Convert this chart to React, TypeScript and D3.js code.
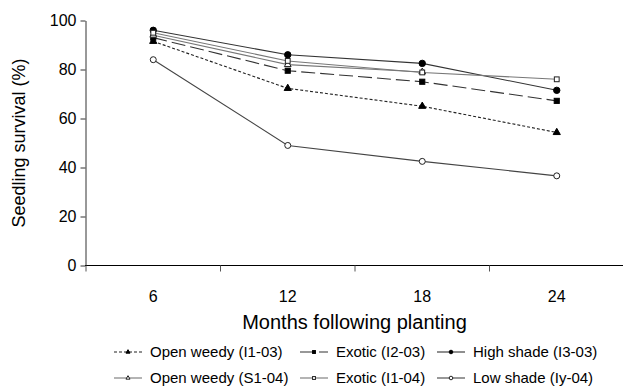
import React, { useEffect, useRef } from "react";
import * as d3 from "d3";

const months = ["6", "12", "18", "24"];
const yTicks = [0, 20, 40, 60, 80, 100];

const openWeedy0304 = [91.5, 72.3, 65, 54.3];
const exotic0203 = [93, 79.5, 75, 67.2];
const highShade = [96, 86, 82.5, 71.5];
const openWeedyS104 = [94, 82, 79];
const exoticI104 = [95, 83.5, 78.8, 76];
const lowShade = [84, 49, 42.5, 36.6];

interface Series {
  name: string;
  values: number[];
  marker: "triangle" | "square" | "circle";
  filled: boolean;
  dash: string;
  stroke: string;
}

const series: Series[] = [
  { name: "Open weedy (I1-03)", values: openWeedy0304, marker: "triangle", filled: true, dash: "3,2", stroke: "#222" },
  { name: "Exotic (I2-03)", values: exotic0203, marker: "square", filled: true, dash: "14,5", stroke: "#333" },
  { name: "High shade (I3-03)", values: highShade, marker: "circle", filled: true, dash: "", stroke: "#333" },
  { name: "Open weedy (S1-04)", values: openWeedyS104, marker: "triangle", filled: false, dash: "", stroke: "#777" },
  { name: "Exotic (I1-04)", values: exoticI104, marker: "square", filled: false, dash: "", stroke: "#777" },
  { name: "Low shade (Iy-04)", values: lowShade, marker: "circle", filled: false, dash: "", stroke: "#444" },
];

function drawMarker(g: any, s: Series, cx: number, cy: number, size: number) {
  const fill = s.filled ? "#000" : "#fff";
  const stroke = s.filled ? "#000" : "#222";
  if (s.marker === "circle") {
    g.append("circle").attr("cx", cx).attr("cy", cy).attr("r", size)
      .attr("fill", fill).attr("stroke", stroke).attr("stroke-width", 1);
  } else if (s.marker === "square") {
    const h = size * 0.8;
    g.append("rect").attr("x", cx - h).attr("y", cy - h).attr("width", h * 2).attr("height", h * 2)
      .attr("fill", fill).attr("stroke", stroke).attr("stroke-width", 1);
  } else {
    const sym = d3.symbol().type(d3.symbolTriangle).size(size * size * 2.2);
    g.append("path").attr("d", sym()).attr("transform", `translate(${cx},${cy})`)
      .attr("fill", fill).attr("stroke", stroke).attr("stroke-width", 1);
  }
}

export default function App() {
  const ref = useRef<SVGSVGElement>(null);

  useEffect(() => {
    document.body.style.margin = "0";
    if (!ref.current) return;
    const svg = d3.select(ref.current);
    svg.selectAll("*").remove();

    const font = "Liberation Sans, Arial, Helvetica, sans-serif";

    const x = d3.scaleBand().domain(months).range([86, 624]);
    const y = d3.scaleLinear().domain([0, 100]).range([265.5, 20.5]);

    // y axis
    const yAxis = svg.append("g").attr("transform", "translate(85.5,0)")
      .call(d3.axisLeft(y).tickValues(yTicks).tickSize(5).tickSizeOuter(0).tickPadding(4));
    yAxis.selectAll("text").style("font-family", font).style("font-size", "16px").attr("fill", "#000");
    yAxis.selectAll("line, path").attr("stroke", "#333");

    // x axis: ticks sit between months
    const xg = svg.append("g").attr("transform", "translate(0,265.5)");
    xg.append("line").attr("x1", 85).attr("x2", 623).attr("stroke", "#000");
    const edges = months.map((m) => x(m) as number);
    xg.selectAll(".xt").data(edges).enter().append("line")
      .attr("x1", (d: number) => d).attr("x2", (d: number) => d)
      .attr("y1", 0).attr("y2", 6).attr("stroke", "#555");
    xg.selectAll(".xl").data(months).enter().append("text")
      .attr("x", (d: string) => (x(d) as number) + x.bandwidth() / 2)
      .attr("y", 36).attr("text-anchor", "middle")
      .style("font-family", font).style("font-size", "16px").text((d: string) => d);

    // axis titles
    svg.append("text").attr("x", 354.5).attr("y", 329).attr("text-anchor", "middle")
      .style("font-family", font).style("font-size", "20px").text("Months following planting");
    svg.append("text").attr("transform", "translate(25,143) rotate(-90)").attr("text-anchor", "middle")
      .style("font-family", font).style("font-size", "18px").text("Seedling survival (%)");

    const cx = (i: number) => (x(months[i]) as number) + x.bandwidth() / 2;
    const line = d3.line<number>().x((_d: number, i: number) => cx(i)).y((d: number) => y(d));

    const plot = svg.append("g");
    series.forEach((s) => {
      plot.append("path").attr("d", line(s.values)).attr("fill", "none")
        .attr("stroke", s.stroke).attr("stroke-width", 1.1)
        .attr("stroke-dasharray", s.dash || null);
    });
    series.forEach((s) => {
      s.values.forEach((v, i) => drawMarker(plot, s, cx(i), y(v), s.filled ? 3.2 : 3.0));
    });

    // legend
    const colX = [114, 300, 437];
    const rowY = [352, 378];
    series.forEach((s, i) => {
      const lx = colX[i % 3];
      const ly = rowY[Math.floor(i / 3)];
      const g = svg.append("g");
      g.append("line").attr("x1", lx).attr("x2", lx + 28).attr("y1", ly).attr("y2", ly)
        .attr("stroke", s.stroke).attr("stroke-width", 1.1).attr("stroke-dasharray", s.dash || null);
      drawMarker(g, s, lx + 14, ly, 1.8);
      g.append("text").attr("x", lx + 36).attr("y", ly + 5)
        .style("font-family", font).style("font-size", "15px").text(s.name);
    });
  }, []);

  return <svg ref={ref} width={623} height={390} style={{ display: "block", background: "#fff" }} />;
}
